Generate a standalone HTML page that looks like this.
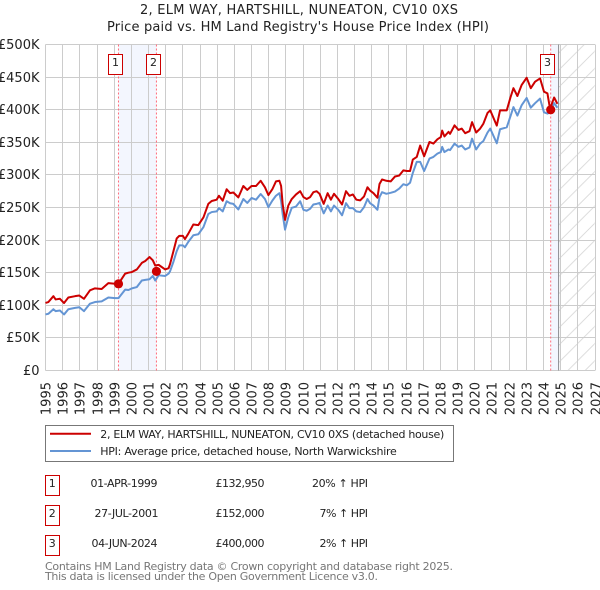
<!DOCTYPE html>
<html lang="en">
<head>
<meta charset="utf-8">
<title>Price paid vs. HPI chart</title>
<style>
html,body{margin:0;padding:0;background:#fff;width:600px;height:590px;overflow:hidden}
svg{display:block;position:absolute;left:0;top:0}
text{font-family:"DejaVu Sans","Liberation Sans",sans-serif}
</style>
</head>
<body>
<svg id="chart" xmlns="http://www.w3.org/2000/svg" width="600" height="590" viewBox="0 0 600 590">
  <defs>
    <pattern id="hatch" patternUnits="userSpaceOnUse" x="560" y="0" width="17.2" height="17.2">
      <path d="M0 17.2 L17.2 0" stroke="#d6d6d6" stroke-width="0.8" fill="none"/>
    </pattern>
  </defs>
  <text x="299" y="14" font-size="13" text-anchor="middle" fill="#222" textLength="318" lengthAdjust="spacing">2, ELM WAY, HARTSHILL, NUNEATON, CV10 0XS</text>
  <text x="298" y="31" font-size="13" text-anchor="middle" fill="#222" textLength="382" lengthAdjust="spacing">Price paid vs. HM Land Registry's House Price Index (HPI)</text>
  <g id="bands"></g>
  <g id="grid"></g>
  <g id="ticks"></g>
  <g id="series"></g>
  <g id="annotations"></g>

  <rect x="45.5" y="425.5" width="408" height="36" fill="#fff" stroke="#777" stroke-width="1"/>
  <line x1="50" x2="91" y1="433.7" y2="433.7" stroke="#cc0000" stroke-width="2"/>
  <text x="100.3" y="438" font-size="11" fill="#222" textLength="344" lengthAdjust="spacing">2, ELM WAY, HARTSHILL, NUNEATON, CV10 0XS (detached house)</text>
  <line x1="50" x2="91" y1="451" y2="451" stroke="#6495d4" stroke-width="2"/>
  <text x="100.3" y="455" font-size="11" fill="#222" textLength="296.5" lengthAdjust="spacing">HPI: Average price, detached house, North Warwickshire</text>

  <g>
    <rect x="45.5" y="475.5" width="14" height="20" fill="#fff" stroke="#cc0000" stroke-width="1"/>
    <text x="52.3" y="487" font-size="11" text-anchor="middle" fill="#222">1</text>
    <text x="90.5" y="487" font-size="11" fill="#222" textLength="67" lengthAdjust="spacing">01-APR-1999</text>
    <text x="215.5" y="487" font-size="11" fill="#222" textLength="49" lengthAdjust="spacing">£132,950</text>
    <text x="312" y="487" font-size="11" fill="#222" textLength="56" lengthAdjust="spacing">20% ↑ HPI</text>
  </g>
  <g>
    <rect x="45.5" y="505.5" width="14" height="20" fill="#fff" stroke="#cc0000" stroke-width="1"/>
    <text x="52.3" y="517" font-size="11" text-anchor="middle" fill="#222">2</text>
    <text x="94.5" y="517" font-size="11" fill="#222" textLength="64" lengthAdjust="spacing">27-JUL-2001</text>
    <text x="215.5" y="517" font-size="11" fill="#222" textLength="49" lengthAdjust="spacing">£152,000</text>
    <text x="319.5" y="517" font-size="11" fill="#222" textLength="48.5" lengthAdjust="spacing">7% ↑ HPI</text>
  </g>
  <g>
    <rect x="45.5" y="535.5" width="14" height="20" fill="#fff" stroke="#cc0000" stroke-width="1"/>
    <text x="52.3" y="547" font-size="11" text-anchor="middle" fill="#222">3</text>
    <text x="91.5" y="547" font-size="11" fill="#222" textLength="66" lengthAdjust="spacing">04-JUN-2024</text>
    <text x="215.5" y="547" font-size="11" fill="#222" textLength="49" lengthAdjust="spacing">£400,000</text>
    <text x="319.5" y="547" font-size="11" fill="#222" textLength="48.5" lengthAdjust="spacing">2% ↑ HPI</text>
  </g>

  <text x="45" y="570" font-size="11" fill="#777" textLength="408" lengthAdjust="spacing">Contains HM Land Registry data © Crown copyright and database right 2025.</text>
  <text x="45" y="580" font-size="11" fill="#777" textLength="333" lengthAdjust="spacing">This data is licensed under the Open Government Licence v3.0.</text>
</svg>
<script>
const yearTicks = [1995,1996,1997,1998,1999,2000,2001,2002,2003,2004,2005,2006,2007,2008,2009,2010,2011,2012,2013,2014,2015,2016,2017,2018,2019,2020,2021,2022,2023,2024,2025,2026,2027];
const priceTicks = [0,50,100,150,200,250,300,350,400,450,500];
const priceTickLabels = ['£0','£50K','£100K','£150K','£200K','£250K','£300K','£350K','£400K','£450K','£500K'];

const dates = [1995.0,1995.17,1995.46,1995.59,1995.84,1996.08,1996.33,1996.72,1996.97,1997.24,1997.59,1997.88,1998.27,1998.66,1999.05,1999.25,1999.64,1999.83,2000.03,2000.32,2000.61,2000.81,2001.06,2001.25,2001.39,2001.59,2001.97,2002.17,2002.25,2002.44,2002.64,2002.79,2003.0,2003.12,2003.32,2003.61,2003.9,2004.2,2004.48,2004.68,2004.97,2005.1,2005.32,2005.55,2005.75,2005.94,2006.23,2006.52,2006.75,2007.0,2007.26,2007.53,2007.78,2007.98,2008.21,2008.42,2008.62,2008.72,2008.81,2008.95,2009.14,2009.34,2009.59,2009.83,2010.02,2010.21,2010.41,2010.6,2010.79,2010.96,2011.2,2011.43,2011.62,2011.8,2012.05,2012.27,2012.5,2012.7,2012.9,2013.1,2013.33,2013.55,2013.75,2013.9,2014.1,2014.33,2014.45,2014.6,2014.85,2015.1,2015.35,2015.6,2015.84,2016.04,2016.23,2016.39,2016.62,2016.82,2017.05,2017.36,2017.59,2017.82,2018.02,2018.1,2018.23,2018.47,2018.56,2018.82,2019.05,2019.24,2019.44,2019.69,2019.84,2020.08,2020.31,2020.5,2020.74,2020.9,2021.28,2021.47,2021.86,2022.09,2022.25,2022.48,2022.73,2023.02,2023.26,2023.51,2023.8,2024.03,2024.23,2024.38,2024.62,2024.81];

const priceSeries = [103.6,105,114,109,110,103.5,112,114,115,110,123,126,125,134,133,133,148.6,150,151,155,165,168,174,169,161,162,155,157,163,182,202.5,206.5,206.5,201.5,210,224,223,235,255.5,260,262,268,260.5,278,272,273,265.5,283,277,283,283,291,281,269,278,290,291,283,255.5,231,253,263,270,275,266,263,266,273.5,275,271,255.6,272,262,271,263,254.6,275,268,270,262,261,267,281,276,272,265,286,293,291,290,297.5,299,307,306,306,323.5,327.6,345,328.6,350.5,348,354.6,358,368,359,366,363,376,369,371,364,367,381,365,371,378.6,395,399,375.6,399,399,420,433,421,438,449,433,443,448,427.6,425,401.6,418.7,409];

const hpiSeries = [86,87,94,91,92,86,94,96,97,91,102.5,105,106,112,111,111,124,123.5,126,128,138,139,140,145,138,146,145,148.6,152,166,183,192,192,189,197.5,207.5,209,220,240,243,244,249,244,259.6,256.5,255.5,247,263,257,264.6,262,270.7,263,250.5,260.6,268,272,260,240,216,235,249.5,251.5,259.6,246.5,245,248,254.6,255.6,257,241,253,244,253,246.5,238,256.6,249,249,244,243,250.5,263,256.6,253,246.5,266,273.5,271,272.5,274.5,279,285.7,284,288,303,320,320,306,325,327.6,332.6,335,343,335,339,338,348,343,345,339,342,355.6,339,348,352,365,371,348.5,370,373,391,404,391,407,418,403,410,417,396,394,396,410,403];

const saleDates = [1999.25,2001.46,2024.42];
const salePrices = [132.95,152,400];
const saleLabels = ['1','2','3'];
const dataEndDate = 2024.88;
const forecastEndDate = 2027;

const NS = 'http://www.w3.org/2000/svg';
function xScale(year){ return 45.5 + (year - 1995) * 17.172; }
function yScale(k){ return 370.5 - k * 0.652; }
function make(parent, tag, attrs){
  const el = document.createElementNS(NS, tag);
  for (const key in attrs) el.setAttribute(key, attrs[key]);
  parent.appendChild(el);
  return el;
}

const bands = document.getElementById('bands');
const grid = document.getElementById('grid');
const ticks = document.getElementById('ticks');
const series = document.getElementById('series');
const annotations = document.getElementById('annotations');

const plotTop = yScale(500), plotBottom = yScale(0);

const band12 = make(bands, 'rect', {x:xScale(saleDates[0]), y:plotTop, width:xScale(saleDates[1])-xScale(saleDates[0]), height:plotBottom-plotTop, fill:'#f3f6fe'});


const band3 = make(bands, 'rect', {x:xScale(saleDates[2]), y:plotTop, width:xScale(dataEndDate)-xScale(saleDates[2]), height:plotBottom-plotTop, fill:'#f3f6fe'});


const hatch = make(bands, 'rect', {x:xScale(dataEndDate), y:plotTop, width:xScale(forecastEndDate)-xScale(dataEndDate), height:plotBottom-plotTop, fill:'url(#hatch)'});



yearTicks.forEach(function(year){
  const px = Math.round(xScale(year) - 0.5) + 0.5;
  const line = make(grid, 'line', {x1:px, x2:px, y1:plotTop, y2:plotBottom, stroke:'#cccccc', 'stroke-width':1});
  
  
  const label = make(ticks, 'text', {transform:'translate(' + (px + 5) + ',382) rotate(-90)', 'font-size':13, 'text-anchor':'end', fill:'#222'});
  label.textContent = String(year);
  
  
});

priceTicks.forEach(function(k, i){
  const py = Math.round(yScale(k) - 0.5) + 0.5;
  const line = make(grid, 'line', {x1:xScale(1995), x2:xScale(2027), y1:py, y2:py, stroke:'#cccccc', 'stroke-width':1});
  
  
  const label = make(ticks, 'text', {x:39.5, y:py + 4.7, 'font-size':13, 'text-anchor':'end', fill:'#222'});
  label.textContent = priceTickLabels[i];
  
  
});

const endLine = make(grid, 'line', {x1:xScale(dataEndDate), x2:xScale(dataEndDate), y1:plotTop, y2:plotBottom, stroke:'#8a8a90', 'stroke-width':1});



saleDates.forEach(function(d){
  const line = make(grid, 'line', {x1:xScale(d), x2:xScale(d), y1:plotTop, y2:plotBottom, stroke:'#ff6b7a', 'stroke-width':1, 'stroke-dasharray':'2 2'});
  
  
});

function toPoints(values){
  return values.map(function(v, i){ return xScale(dates[i]).toFixed(2) + ',' + yScale(v).toFixed(2); }).join(' ');
}
const hpiLine = make(series, 'polyline', {points:toPoints(hpiSeries), fill:'none', stroke:'#6495d4', 'stroke-width':2, 'stroke-linejoin':'round'});


const priceLine = make(series, 'polyline', {points:toPoints(priceSeries), fill:'none', stroke:'#cc0000', 'stroke-width':2, 'stroke-linejoin':'round'});



saleDates.forEach(function(d, i){
  const dot = make(annotations, 'circle', {cx:xScale(d), cy:yScale(salePrices[i]), r:4.6, fill:'#cc0000'});
  
  
  const cx = xScale(d);
  const box = make(annotations, 'rect', {x:Math.floor(cx - 10) + 0.5, y:54.5, width:14, height:20, fill:'#fff', stroke:'#cc0000', 'stroke-width':1});
  
  
  const label = make(annotations, 'text', {x:Math.floor(cx - 10) + 7.5, y:66, 'font-size':11, 'text-anchor':'middle', fill:'#222'});
  label.textContent = saleLabels[i];
  
  
});
</script>
</body>
</html>
